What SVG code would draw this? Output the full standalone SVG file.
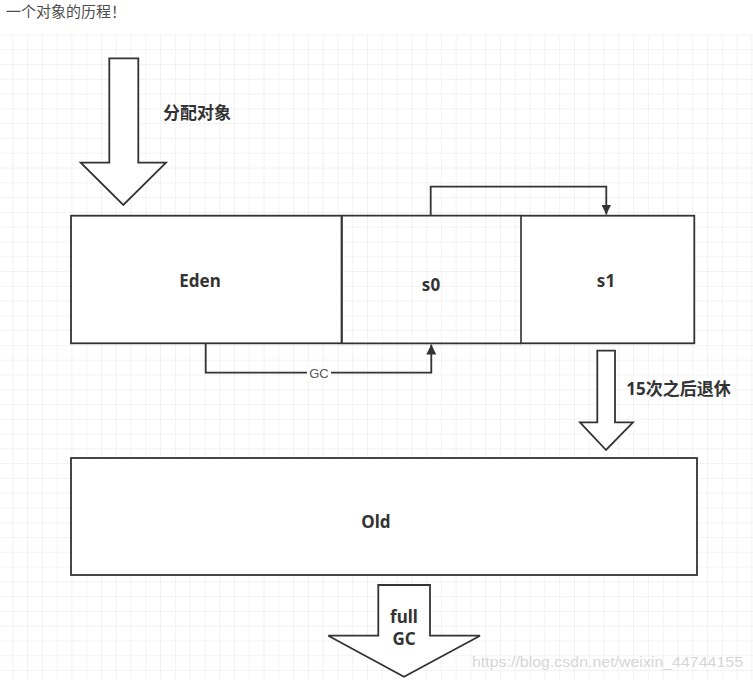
<svg xmlns="http://www.w3.org/2000/svg" width="753" height="680" viewBox="0 0 753 680">
<defs>
<pattern id="grid" x="12.3" y="34.5" width="14.78" height="14.78" patternUnits="userSpaceOnUse">
<path d="M0 0H14.78M0 0V14.78" fill="none" stroke="#e5e5e5" stroke-width="1"/>
</pattern>
<marker id="arr" viewBox="0 0 10 10" refX="10" refY="5" markerWidth="10" markerHeight="10" markerUnits="userSpaceOnUse" orient="auto">
<path d="M0 0L10 5L0 10Z" fill="#333"/>
</marker>
<style>
.box{fill:#fff;stroke:#333;stroke-width:1.8}
.big{fill:#fff;stroke:#333;stroke-width:1.8;stroke-linejoin:miter}
.lbl{font-family:"Noto Sans","Noto Sans CJK SC",sans-serif;font-weight:bold;font-size:17px;fill:#333;text-anchor:middle;dominant-baseline:central}
.conn{fill:none;stroke:#333;stroke-width:1.8}
</style>
</defs>
<rect x="0" y="0" width="753" height="680" fill="#fff"/>
<rect x="0" y="34.5" width="753" height="646" fill="url(#grid)"/>
<text x="6" y="10" font-family="'Noto Sans CJK SC',sans-serif" font-size="15" fill="#4d4d4d" dominant-baseline="central">一个对象的历程！</text>

<g id="alloc-arrow">
<path class="big" d="M109.3 58.3H138.3V162.7H166L123.3 205L80.7 162.7H109.3Z"/>
<text class="lbl" x="197" y="112">分配对象</text>
</g>

<g id="eden">
<rect class="box" x="71" y="215.7" width="270.7" height="127.6"/>
<text class="lbl" x="200" y="280">Eden</text>
</g>
<g id="s1">
<rect class="box" x="521" y="215.7" width="173.3" height="127.6"/>
<line x1="521" y1="216.6" x2="521" y2="342.4" stroke="#5a5a5a" stroke-width="1.8"/>
<text class="lbl" x="606" y="280">s1</text>
</g>
<g id="s0">
<path d="M341.7 215.7V343.3" class="conn"/>
<path d="M341.7 215.7H521M341.7 343.3H521" class="conn"/>
<text class="lbl" x="431" y="284">s0</text>
</g>

<g id="connectors">
<path class="conn" d="M430.7 215.7V186.7H606.3V214.5" marker-end="url(#arr)"/>
<path class="conn" d="M205.7 343.3V372.7H431.3V344.5" marker-end="url(#arr)"/>
<rect x="307" y="365" width="24" height="15" fill="#fff"/>
<text x="319" y="373" font-family="'Liberation Sans',sans-serif" font-size="13" fill="#555" text-anchor="middle" dominant-baseline="central">GC</text>
</g>

<g id="retire-arrow">
<path class="big" d="M597.3 350.7H615V422.3H633L606 450L580 422.3H597.3Z"/>
<text class="lbl" x="678.5" y="388">15次之后退休</text>
</g>

<g id="old">
<rect class="box" x="71" y="458" width="626" height="117"/>
<text class="lbl" x="376" y="521">Old</text>
</g>

<g id="fullgc-arrow">
<path class="big" d="M378.3 585H430V635.7H480L404 676.7L328.3 635.7H378.3Z"/>
<text class="lbl" x="404" y="616.5">full</text>
<text class="lbl" x="404" y="638">GC</text>
</g>

<text x="607.5" y="661" font-family="'Liberation Sans',sans-serif" font-size="15" fill="#d6d6d6" text-anchor="middle" dominant-baseline="central" textLength="271" lengthAdjust="spacingAndGlyphs">https://blog.csdn.net/weixin_44744155</text>
</svg>
